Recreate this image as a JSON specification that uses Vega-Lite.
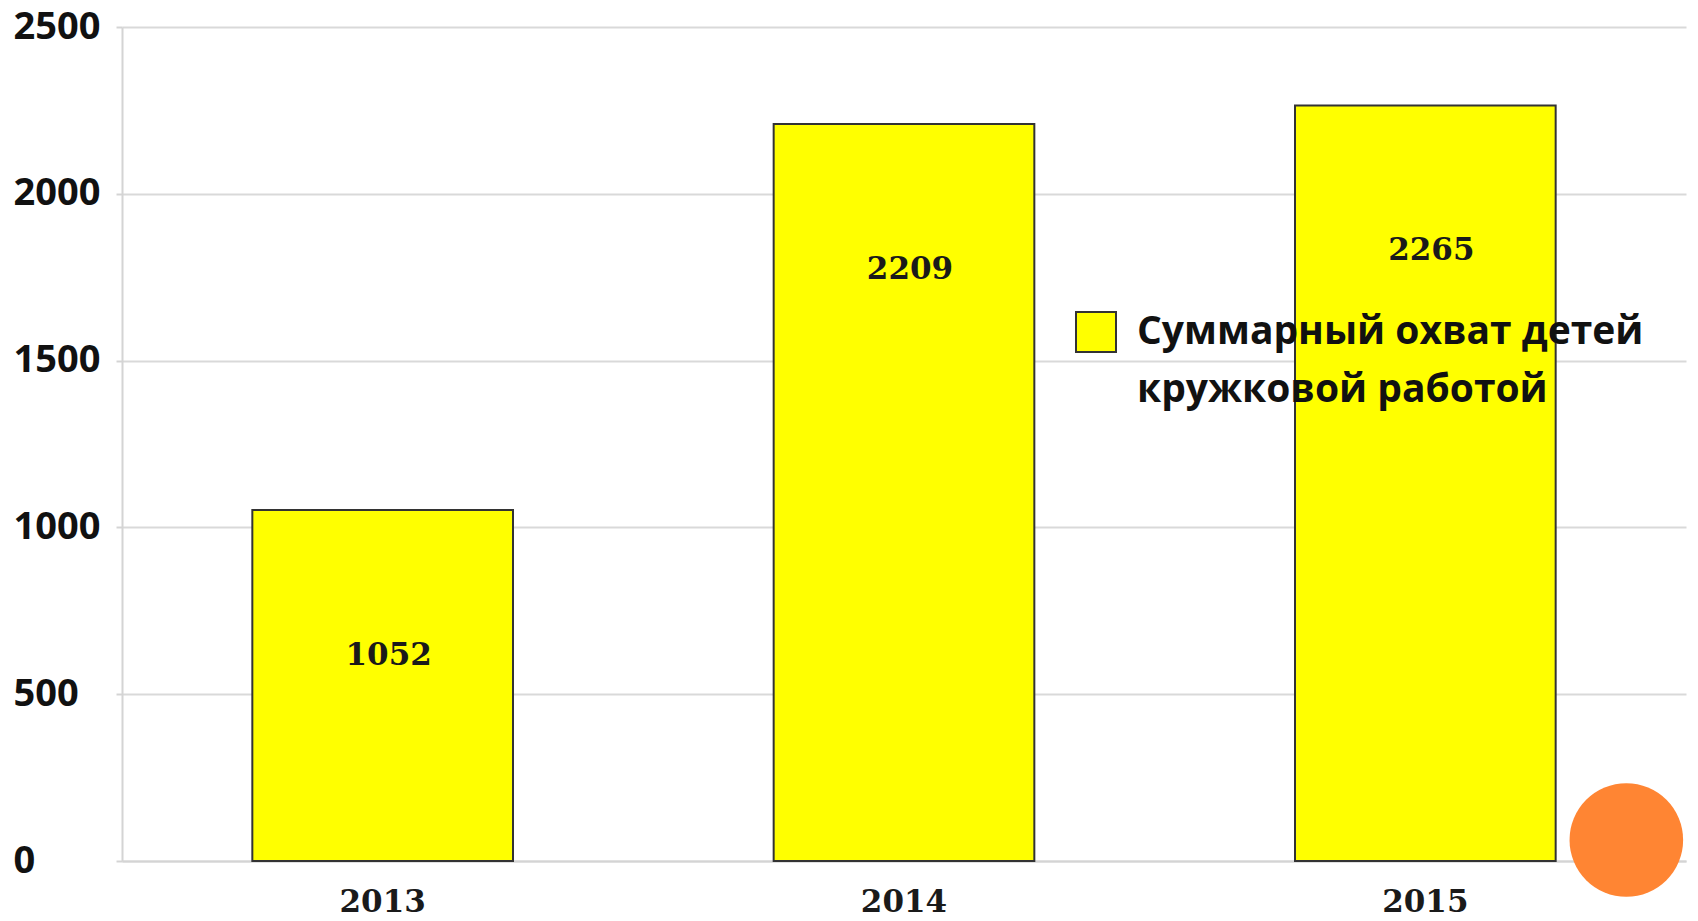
{
  "$schema": "https://vega.github.io/schema/vega-lite/v6.json",
  "width": 1564,
  "height": 834,
  "autosize": {"type": "none"},
  "padding": {"left": 122, "top": 27, "right": 12, "bottom": 60},
  "background": "white",
  "config": {
    "view": {"stroke": null},
    "style": {"guide-label": {"lineHeight": 58}}
  },
  "data": {
    "values": [
      {"year": "2013", "value": 1052, "series": "Суммарный охват детей кружковой работой"},
      {"year": "2014", "value": 2209, "series": "Суммарный охват детей кружковой работой"},
      {"year": "2015", "value": 2265, "series": "Суммарный охват детей кружковой работой"}
    ]
  },
  "layer": [
    {
      "mark": {"type": "bar", "stroke": "#333333", "strokeWidth": 2},
      "encoding": {
        "x": {
          "field": "year", "type": "nominal",
          "scale": {"paddingInner": 0.5, "paddingOuter": 0.25},
          "axis": {
            "title": null, "labelAngle": 0, "ticks": false,
            "domainColor": "#d4d4d4", "domainWidth": 2,
            "labelFont": "DejaVu Serif", "labelFontWeight": "bold", "labelFontSize": 31,
            "labelColor": "#1a1a1a", "labelBaseline": "middle", "labelPadding": 41
          }
        },
        "y": {
          "field": "value", "type": "quantitative",
          "scale": {"domain": [0, 2500], "nice": false},
          "axis": {
            "title": null, "values": [0, 500, 1000, 1500, 2000, 2500], "format": "d",
            "grid": true, "gridColor": "#d9d9d9", "gridWidth": 2,
            "domainColor": "#d4d4d4", "domainWidth": 2,
            "tickColor": "#d4d4d4", "tickSize": 6, "tickWidth": 2,
            "labelAlign": "left", "labelPadding": 103, "labelBaseline": "middle",
            "labelFont": "Open Sans", "labelFontWeight": "bold", "labelFontSize": 38,
            "labelColor": "#111111"
          }
        },
        "color": {
          "field": "series", "type": "nominal",
          "scale": {"range": ["#FFFF00"]},
          "legend": {
            "title": null, "orient": "none", "legendX": 953, "legendY": 284,
            "padding": 0, "symbolType": "square", "symbolSize": 1600,
            "symbolStrokeColor": "#333333", "symbolStrokeWidth": 2, "symbolFillColor": "#FFFF00",
            "labelFont": "Open Sans", "labelFontWeight": "bold", "labelFontSize": 39,
            "labelColor": "#111111", "labelOffset": 20, "labelLimit": 700,
            "labelExpr": "['Суммарный охват детей', 'кружковой работой']"
          }
        }
      }
    },
    {
      "mark": {
        "type": "text", "font": "DejaVu Serif", "fontWeight": "bold", "fontSize": 31,
        "color": "#1a1a1a", "baseline": "middle", "dy": 146, "dx": 6
      },
      "encoding": {
        "x": {"field": "year", "type": "nominal"},
        "y": {"field": "value", "type": "quantitative"},
        "text": {"field": "value", "type": "quantitative", "format": "d"}
      }
    },
    {
      "data": {"values": [{"year": "2015", "value": 63}]},
      "mark": {"type": "point", "filled": true, "color": "#FF8533", "opacity": 1, "size": 12900, "xOffset": 201},
      "encoding": {
        "x": {"field": "year", "type": "nominal"},
        "y": {"field": "value", "type": "quantitative"}
      }
    }
  ]
}
